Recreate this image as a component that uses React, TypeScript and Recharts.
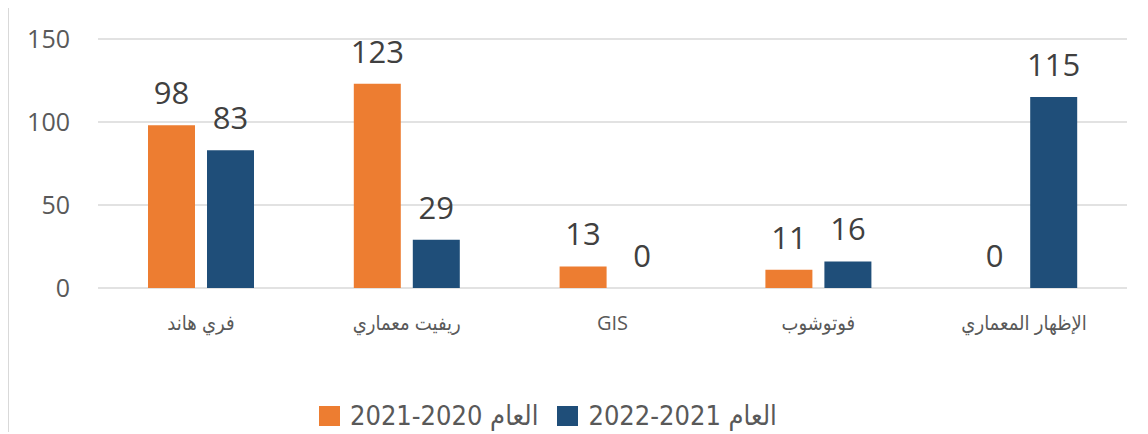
import { BarChart, Bar, XAxis, YAxis, CartesianGrid, LabelList } from 'recharts'

const categories = ['فري هاند', 'ريفيت معماري', 'GIS', 'فوتوشوب', 'الإظهار المعماري']
const values2020 = [98, 123, 13, 11, 0]
const values2021 = [83, 29, 0, 16, 115]
const seriesNames = ['العام 2020-2021', 'العام 2021-2022']
const yTicks = [0, 50, 100, 150]

const COLORS = ['#ED7D31', '#1F4E79']
const NUM_FONT = "'Open Sans', 'DejaVu Sans', sans-serif"
const TICK_FONT = "'Open Sans', 'DejaVu Sans Condensed', 'DejaVu Sans', sans-serif"
const NARROW_FONT = "'Liberation Sans Narrow', 'DejaVu Sans Condensed', 'Liberation Sans', sans-serif"

const data = categories.map((name, i) => ({
  name,
  a: values2020[i],
  b: values2021[i],
}))

const labelStyle = { fontSize: 31, fill: '#404040', fontFamily: NUM_FONT }

export default function App() {
  return (
    <div
      style={{
        position: 'relative',
        top: -2,
        left: -1,
        width: 1140,
        height: 426,
        boxSizing: 'border-box',
        borderTop: '2px solid #d9d9d9',
        borderLeft: '2px solid #d9d9d9',
        background: '#fff',
      }}
    >
      <BarChart
        width={1138}
        height={424}
        data={data}
        margin={{ top: 31, right: 20, left: 0, bottom: 104 }}
        barSize={47}
        barGap={12}
      >
        <CartesianGrid vertical={false} stroke="#d9d9d9" strokeWidth={1.5} />
        <XAxis
          dataKey="name"
          axisLine={false}
          tickLine={false}
          tickSize={0}
          tickMargin={28}
          height={40}
          interval={0}
          tick={{ fontSize: 20, fill: '#595959', fontFamily: TICK_FONT }}
        />
        <YAxis
          domain={[0, 150]}
          ticks={yTicks}
          axisLine={false}
          tickLine={false}
          tickSize={0}
          tickMargin={28}
          width={89}
          tick={{ fontSize: 25, fill: '#595959', fontFamily: NUM_FONT }}
        />
        {/* tiny minPointSize so the zero bars still get their "0" label */}
        <Bar dataKey="a" name={seriesNames[0]} fill={COLORS[0]} minPointSize={0.01} isAnimationActive={false}>
          <LabelList dataKey="a" position="top" offset={21} style={labelStyle} />
        </Bar>
        <Bar dataKey="b" name={seriesNames[1]} fill={COLORS[1]} minPointSize={0.01} isAnimationActive={false}>
          <LabelList dataKey="b" position="top" offset={21} style={labelStyle} />
        </Bar>
      </BarChart>

      {/* legend, drawn by hand so it doesn't shrink the plot */}
      <div
        style={{
          position: 'absolute',
          left: 310,
          top: 392,
          display: 'flex',
          alignItems: 'center',
          fontFamily: NARROW_FONT,
          fontSize: 27,
          color: '#595959',
          whiteSpace: 'nowrap',
        }}
      >
        {seriesNames.map((s, i) => (
          <div key={s} style={{ display: 'flex', alignItems: 'center', marginRight: 19 }}>
            <span style={{ width: 21, height: 20, background: COLORS[i], marginRight: 10 }} />
            <span>{s}</span>
          </div>
        ))}
      </div>
    </div>
  )
}
